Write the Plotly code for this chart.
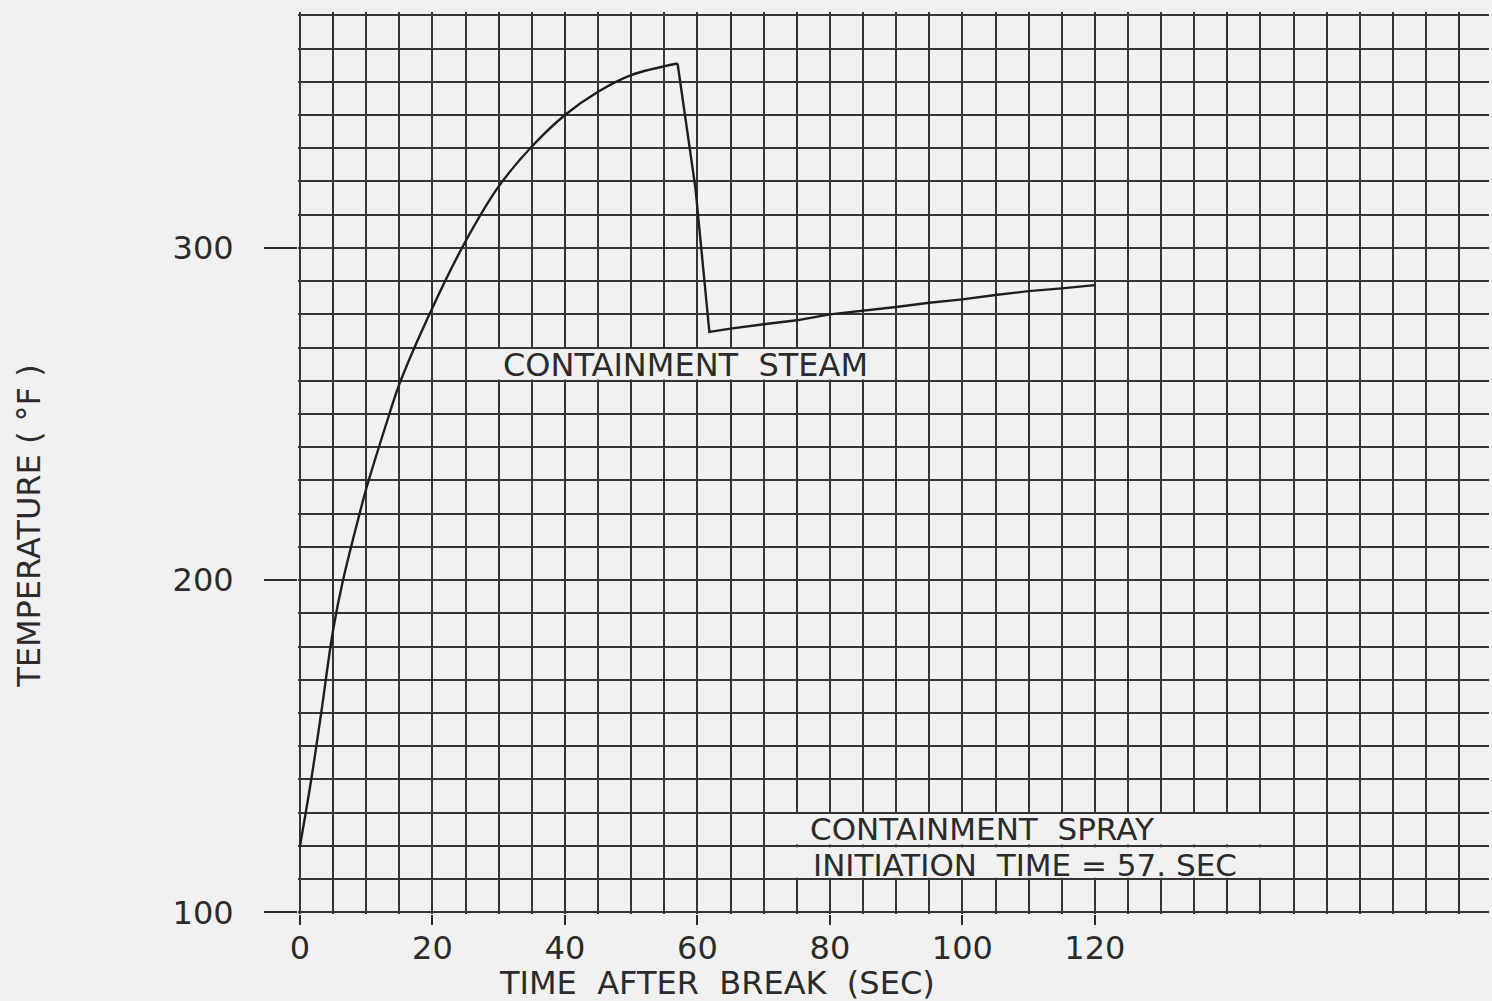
import plotly.graph_objects as go

# ---- data ----
heatup_time = [0, 1.7, 3.2, 5, 6.5, 9, 10, 13.5, 15, 20, 25, 30, 35, 40, 45, 50, 57]
heatup_temp = [120, 140, 160, 185, 200, 220, 227.5, 250, 259, 282, 302, 318.5, 330.5, 340, 347, 352, 355.5]

spray_time = [57, 59.7, 61.8, 65, 70, 75, 80, 85, 90, 95, 100, 105, 110, 115, 120]
spray_temp = [355.5, 318, 274.7, 275.7, 277, 278.2, 280, 281, 282.2, 283.5, 284.5, 285.8, 287, 287.8, 288.8]

x_tick_vals = [0, 20, 40, 60, 80, 100, 120]
x_tick_text = ["0", "20", "40", "60", "80", "100", "120"]
y_tick_vals = [100, 200, 300]
y_tick_text = ["100", "200", "300"]

BG = "#f1f1f1"
INK = "#2b2b2b"
GRID = "#353535"
FONT = "DejaVu Sans"
FS = 32

fig = go.Figure()
fig.add_trace(go.Scatter(x=heatup_time, y=heatup_temp, mode="lines",
                         line=dict(color="#1e1e1e", width=2.4, shape="spline", smoothing=1.0),
                         showlegend=False, hoverinfo="skip"))
fig.add_trace(go.Scatter(x=spray_time, y=spray_temp, mode="lines",
                         line=dict(color="#1e1e1e", width=2.4),
                         showlegend=False, hoverinfo="skip"))

# blank bands behind labels (cover vertical grid lines inside the label rows)
bands = [(28.6, 87.6, 260.4, 269.6), (73.4, 147.2, 110.4, 119.6), (73.4, 147.2, 120.4, 129.6)]
for x0, x1, y0, y1 in bands:
    fig.add_shape(type="rect", xref="x", yref="y", x0=x0, x1=x1, y0=y0, y1=y1,
                  fillcolor=BG, line=dict(width=0), layer="between")

fig.add_annotation(x=58.2, y=264.6, text="CONTAINMENT\u00a0\u00a0STEAM", showarrow=False,
                   font=dict(family=FONT, size=FS, color=INK), xanchor="center", yanchor="middle")
fig.add_annotation(x=102.9, y=125.0, text="CONTAINMENT\u00a0\u00a0SPRAY", showarrow=False,
                   font=dict(family=FONT, size=31, color=INK), xanchor="center", yanchor="middle")
fig.add_annotation(x=109.4, y=114.3, text="INITIATION\u00a0\u00a0TIME\u00a0=\u00a057.\u00a0SEC", showarrow=False,
                   font=dict(family=FONT, size=31, color=INK), xanchor="center", yanchor="middle")

fig.add_annotation(xref="x", yref="paper", x=62.9, y=0, yshift=-69,
                   text="TIME\u00a0\u00a0AFTER\u00a0\u00a0BREAK\u00a0\u00a0(SEC)", showarrow=False,
                   font=dict(family=FONT, size=FS, color=INK), xanchor="center", yanchor="middle")
fig.add_annotation(xref="paper", yref="y", x=-0.2265, y=216.4, textangle=-90,
                   text="TEMPERATURE\u00a0(\u00a0\u00b0F\u00a0)", showarrow=False,
                   font=dict(family=FONT, size=FS, color=INK), xanchor="center", yanchor="middle")

fig.update_layout(
    width=1492, height=1001,
    margin=dict(l=298, r=3, t=12, b=87),
    paper_bgcolor=BG, plot_bgcolor=BG,
    xaxis=dict(range=[-0.3, 179.5], tickmode="array", tickvals=x_tick_vals, ticktext=x_tick_text,
               showgrid=True, gridcolor=GRID, gridwidth=2, zeroline=False, showline=False,
               ticks="outside", ticklen=10, tickwidth=2, tickcolor=INK,
               tickfont=dict(family=FONT, size=FS, color=INK), ticklabelstandoff=-4,
               minor=dict(tickmode="linear", tick0=0, dtick=5, showgrid=True,
                          gridcolor=GRID, gridwidth=2, ticks="")),
    yaxis=dict(range=[99.5, 371], tickmode="array", tickvals=y_tick_vals, ticktext=y_tick_text,
               showgrid=True, gridcolor=GRID, gridwidth=2, zeroline=False, showline=False,
               ticks="outside", ticklen=33, tickwidth=2, tickcolor=INK,
               tickfont=dict(family=FONT, size=FS, color=INK), ticklabelstandoff=24,
               minor=dict(tickmode="linear", tick0=0, dtick=10, showgrid=True,
                          gridcolor=GRID, gridwidth=2, ticks="")),
)

fig.write_html("out.html", config={"displayModeBar": False})

# remove the default page margin so the figure fills the window exactly
with open("out.html", "r", encoding="utf-8") as f:
    html = f.read()
html = html.replace("<body>", '<body style="margin:0;padding:0;overflow:hidden;">', 1)
with open("out.html", "w", encoding="utf-8") as f:
    f.write(html)
